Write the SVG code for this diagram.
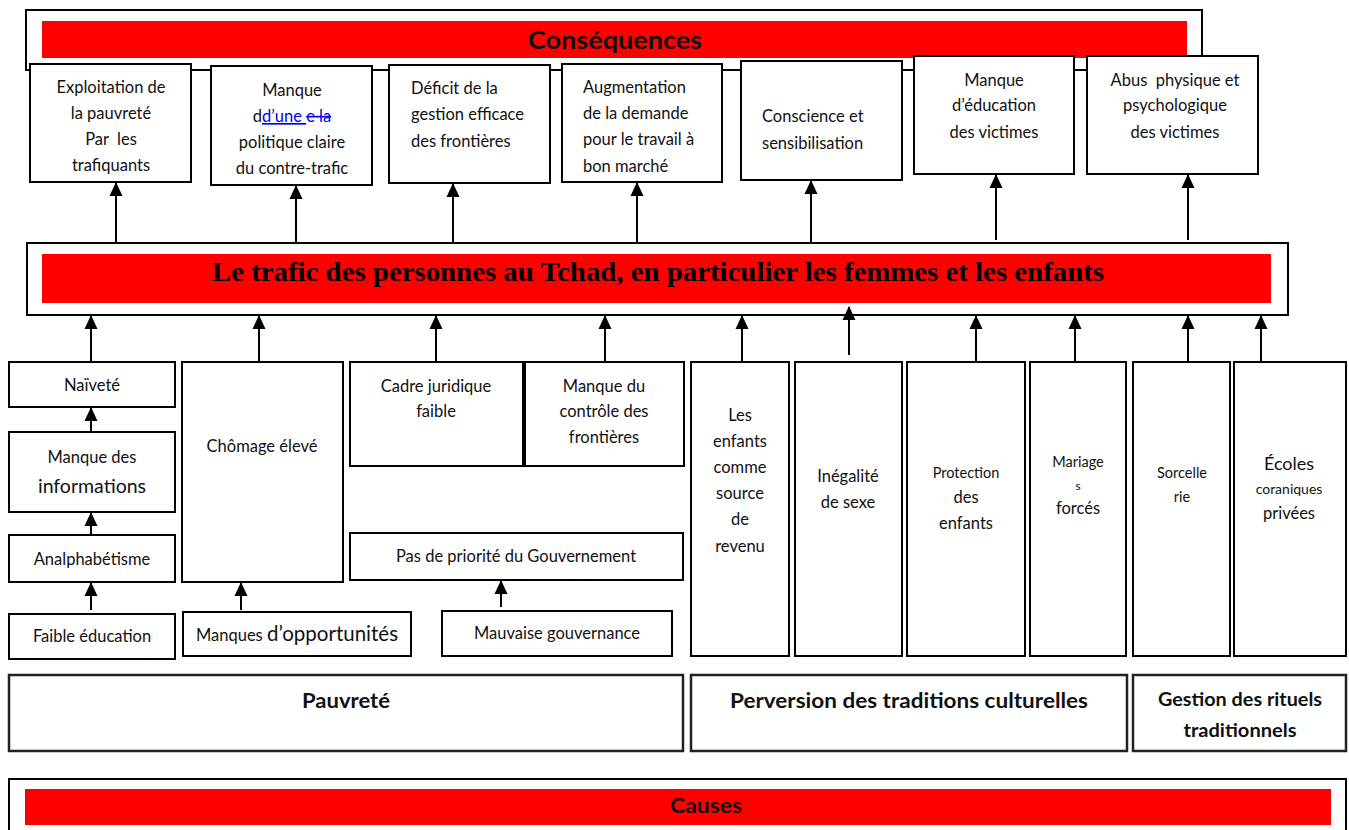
<svg xmlns="http://www.w3.org/2000/svg" width="1349" height="830" viewBox="0 0 1349 830">
<style>
.box{fill:#fff;stroke:#000;stroke-width:2}
.bx2{fill:#fff;stroke:#222;stroke-width:2.5}
.red{fill:#ff0000}
.t{font-family:Lato,"Open Sans","Liberation Sans",sans-serif;font-size:16.5px;fill:#111}
.c{text-anchor:middle}
.b{font-weight:bold}
.pre{white-space:pre}
.ttl{font-family:"Liberation Serif","DejaVu Serif",serif;font-weight:bold;font-size:28px;fill:#000;text-anchor:middle}
.con line{stroke:#000;stroke-width:2;marker-end:url(#ah)}
</style>
<defs>
<marker id="ah" viewBox="0 -7 14 14" refX="13" refY="0" markerWidth="14" markerHeight="14" markerUnits="userSpaceOnUse" orient="auto">
<path d="M0,-6.5 L14,0 L0,6.5 z" fill="#000"/>
</marker>
</defs>
<rect width="1349" height="830" fill="#fff"/>

<g id="consequences">
<rect class="box" x="26" y="10" width="1176" height="60"/>
<rect class="red" x="42" y="21" width="1145" height="37"/>
<text class="t c b" x="615" y="49" style="font-size:25px" textLength="174" lengthAdjust="spacingAndGlyphs">Conséquences</text>
</g>

<g id="trafic">
<rect class="box" x="27" y="243" width="1261" height="72"/>
<rect class="red" x="42" y="254" width="1229" height="49"/>
<text class="ttl" x="658" y="281" textLength="892" lengthAdjust="spacingAndGlyphs">Le trafic des personnes au Tchad, en particulier les femmes et les enfants</text>
</g>

<g id="causes">
<rect class="box" x="9" y="779" width="1337" height="60"/>
<rect class="red" x="25" y="789" width="1306" height="36"/>
<text class="t c b" x="706" y="813" style="font-size:20px" textLength="72" lengthAdjust="spacingAndGlyphs">Causes</text>
</g>

<g class="con" id="connectors">
<line x1="116" y1="243" x2="116" y2="183"/>
<line x1="296" y1="243" x2="296" y2="186"/>
<line x1="453" y1="243" x2="453" y2="184"/>
<line x1="637" y1="243" x2="637" y2="183"/>
<line x1="811" y1="243" x2="811" y2="181"/>
<line x1="996" y1="240" x2="996" y2="175"/>
<line x1="1188" y1="240" x2="1188" y2="175"/>

<line x1="91" y1="362" x2="91" y2="316"/>
<line x1="259" y1="362" x2="259" y2="316"/>
<line x1="436" y1="362" x2="436" y2="316"/>
<line x1="605" y1="362" x2="605" y2="316"/>
<line x1="742" y1="362" x2="742" y2="316"/>
<line x1="849" y1="355" x2="849" y2="307"/>
<line x1="976" y1="362" x2="976" y2="316"/>
<line x1="1075" y1="362" x2="1075" y2="316"/>
<line x1="1188" y1="362" x2="1188" y2="316"/>
<line x1="1261" y1="362" x2="1261" y2="316"/>

<line x1="91" y1="432" x2="91" y2="408"/>
<line x1="91" y1="535" x2="91" y2="513"/>
<line x1="91" y1="610" x2="91" y2="583"/>
<line x1="241" y1="610" x2="241" y2="583"/>
<line x1="501" y1="607" x2="501" y2="581"/>
</g>

<g id="c1"><rect class="box" x="30" y="64" width="161" height="118"/>
<text class="t c" x="111" y="93">Exploitation de</text>
<text class="t c" x="111" y="119">la pauvreté</text>
<text class="t c pre" x="111" y="145">Par  les</text>
<text class="t c" x="111" y="171">trafiquants</text></g>

<g id="c2"><rect class="box" x="211" y="66" width="161" height="119"/>
<text class="t c" x="292" y="96">Manque</text>
<text class="t c" x="292" y="122">d<tspan fill="#0000ee" text-decoration="underline">d’une </tspan><tspan fill="#0000ee" text-decoration="line-through">e la</tspan></text>
<text class="t c" x="292" y="148">politique claire</text>
<text class="t c" x="292" y="174">du contre-trafic</text></g>

<g id="c3"><rect class="box" x="389" y="65" width="161" height="118"/>
<text class="t" x="411" y="94">Déficit de la</text>
<text class="t" x="411" y="120">gestion efficace</text>
<text class="t" x="411" y="147">des frontières</text></g>

<g id="c4"><rect class="box" x="562" y="64" width="160" height="118"/>
<text class="t" x="583" y="93">Augmentation</text>
<text class="t" x="583" y="119">de la demande</text>
<text class="t" x="583" y="145">pour le travail à</text>
<text class="t" x="583" y="172">bon marché</text></g>

<g id="c5"><rect class="box" x="741" y="61" width="161" height="119"/>
<text class="t" x="762" y="122">Conscience et</text>
<text class="t" x="762" y="149">sensibilisation</text></g>

<g id="c6"><rect class="box" x="914" y="56" width="160" height="118"/>
<text class="t c" x="994" y="86">Manque</text>
<text class="t c" x="994" y="111">d’éducation</text>
<text class="t c" x="994" y="138">des victimes</text></g>

<g id="c7"><rect class="box" x="1087" y="56" width="171" height="118"/>
<text class="t c pre" x="1175" y="86">Abus  physique et</text>
<text class="t c" x="1175" y="111">psychologique</text>
<text class="t c" x="1175" y="138">des victimes</text></g>

<g id="naivete"><rect class="box" x="9" y="362" width="166" height="45"/>
<text class="t c" x="92" y="391">Naïveté</text></g>

<g id="manque-info"><rect class="box" x="9" y="432" width="166" height="80"/>
<text class="t c" x="92" y="463">Manque des</text>
<text class="t c" x="92" y="493" style="font-size:19.5px">informations</text></g>

<g id="analpha"><rect class="box" x="9" y="535" width="166" height="47"/>
<text class="t c" x="92" y="565">Analphabétisme</text></g>

<g id="faible-edu"><rect class="box" x="9" y="614" width="166" height="45"/>
<text class="t c" x="92" y="642">Faible éducation</text></g>

<g id="chomage"><rect class="box" x="182" y="362" width="161" height="220"/>
<text class="t c" x="262" y="452">Chômage élevé</text></g>

<g id="opportunites"><rect class="box" x="183" y="612" width="228" height="44"/>
<text class="t c" x="297" y="641">Manques <tspan style="font-size:20.5px">d’opportunités</tspan></text></g>

<g id="cadre"><rect class="box" x="350" y="362" width="173" height="104"/>
<text class="t c" x="436" y="392">Cadre juridique</text>
<text class="t c" x="436" y="417">faible</text></g>

<g id="controle"><rect class="box" x="525" y="362" width="159" height="104"/>
<text class="t c" x="604" y="392">Manque du</text>
<text class="t c" x="604" y="417">contrôle des</text>
<text class="t c" x="604" y="443">frontières</text></g>

<g id="priorite"><rect class="box" x="350" y="533" width="333" height="47"/>
<text class="t c" x="516" y="562">Pas de priorité du Gouvernement</text></g>

<g id="gouvernance"><rect class="box" x="442" y="611" width="230" height="45"/>
<text class="t c" x="557" y="639">Mauvaise gouvernance</text></g>

<g id="enfants-revenu"><rect class="box" x="691" y="362" width="98" height="294"/>
<text class="t c" x="740" y="421">Les</text>
<text class="t c" x="740" y="447">enfants</text>
<text class="t c" x="740" y="473">comme</text>
<text class="t c" x="740" y="499">source</text>
<text class="t c" x="740" y="525">de</text>
<text class="t c" x="740" y="552">revenu</text></g>

<g id="inegalite"><rect class="box" x="795" y="362" width="107" height="294"/>
<text class="t c" x="848" y="482">Inégalité</text>
<text class="t c" x="848" y="508">de sexe</text></g>

<g id="protection"><rect class="box" x="907" y="362" width="118" height="294"/>
<text class="t c" x="966" y="478" style="font-size:14.5px">Protection</text>
<text class="t c" x="966" y="503">des</text>
<text class="t c" x="966" y="529">enfants</text></g>

<g id="mariages"><rect class="box" x="1030" y="362" width="96" height="294"/>
<text class="t c" x="1078" y="467" style="font-size:14.5px">Mariage</text>
<text class="t c" x="1078" y="490" style="font-size:12px">s</text>
<text class="t c" x="1078" y="514">forcés</text></g>

<g id="sorcellerie"><rect class="box" x="1133" y="362" width="97" height="294"/>
<text class="t c" x="1182" y="478" style="font-size:14.5px">Sorcelle</text>
<text class="t c" x="1182" y="502" style="font-size:14.5px">rie</text></g>

<g id="ecoles"><rect class="box" x="1234" y="362" width="112" height="294"/>
<text class="t c" x="1289" y="470" style="font-size:18px">Écoles</text>
<text class="t c" x="1289" y="494" style="font-size:14px">coraniques</text>
<text class="t c" x="1289" y="519">privées</text></g>

<g id="pauvrete"><rect class="bx2" x="9" y="675" width="674" height="76"/>
<text class="t c b" x="346" y="708" style="font-size:20px" textLength="88" lengthAdjust="spacingAndGlyphs">Pauvreté</text></g>

<g id="perversion"><rect class="bx2" x="691" y="675" width="436" height="76"/>
<text class="t c b" x="909" y="708" style="font-size:20px" textLength="358" lengthAdjust="spacingAndGlyphs">Perversion des traditions culturelles</text></g>

<g id="rituels"><rect class="bx2" x="1133" y="675" width="213" height="76"/>
<text class="t c b" x="1240" y="706" style="font-size:19px" textLength="164" lengthAdjust="spacingAndGlyphs">Gestion des rituels</text>
<text class="t c b" x="1240" y="737" style="font-size:19px" textLength="113" lengthAdjust="spacingAndGlyphs">traditionnels</text></g>
</svg>
